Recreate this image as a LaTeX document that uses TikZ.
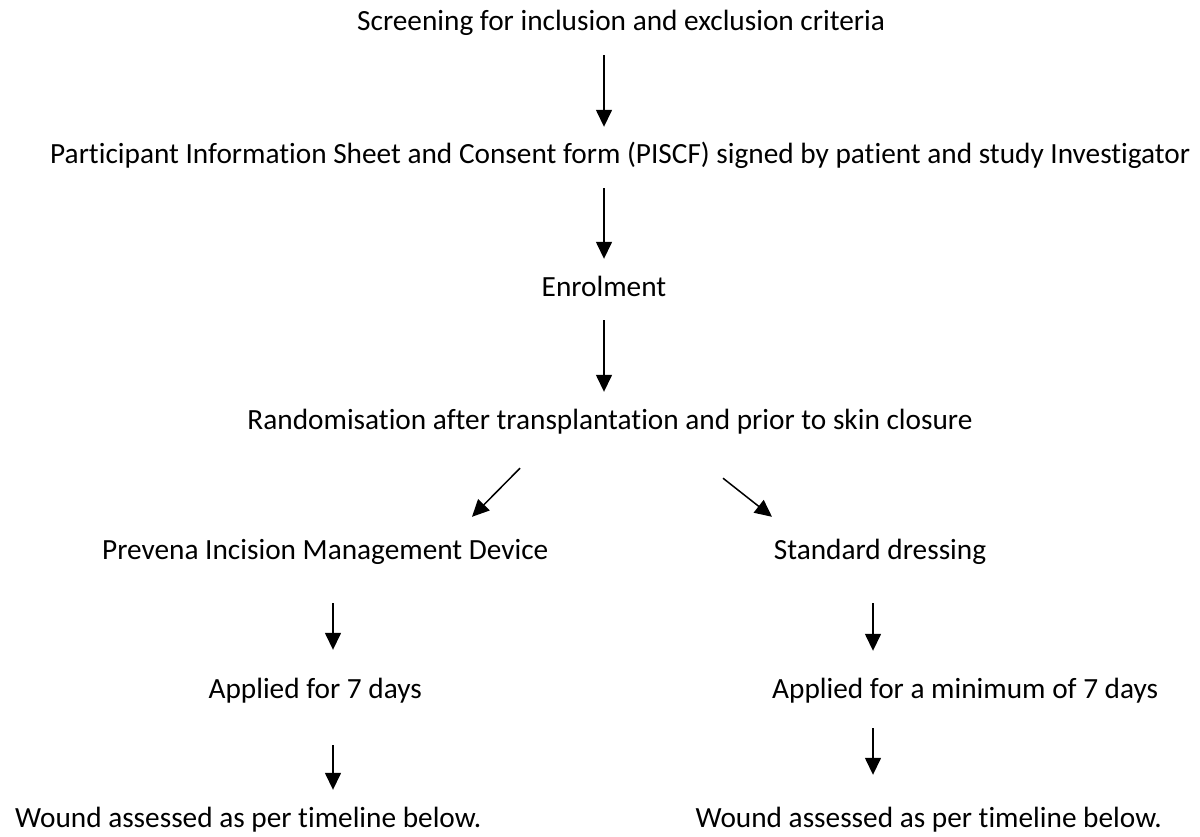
\documentclass[tikz,border=0pt]{standalone}
\usepackage{fontspec}
\setmainfont{Carlito}[Ligatures=CommonOff]
\usetikzlibrary{arrows.meta}
\begin{document}
\begin{tikzpicture}[x=1pt, y=-1pt, >={Triangle[length=17pt, width=16pt]},
  txt/.style={inner sep=0pt, text height=21pt, text depth=6pt, font=\fontsize{29.3}{35}\selectfont},
  arr/.style={->, line width=1.5pt}]
\useasboundingbox (0,0) rectangle (1200,837);
% flow down the middle
\node[txt, anchor=base west] (screen) at (357,31) {Screening for inclusion and exclusion criteria};
\node[txt, anchor=base west] (pisc) at (50,164) {Participant Information Sheet and Consent form (PISCF) signed by patient and study Investigator};
\node[txt, anchor=base] (enrol) at (604,296) {Enrolment};
\node[txt, anchor=base] (rand) at (610,429) {Randomisation after transplantation and prior to skin closure};
% two arms
\node[txt, anchor=base west] (prev) at (102,559) {Prevena Incision Management Device};
\node[txt, anchor=base] (stand) at (880,559) {Standard dressing};
\node[txt, anchor=base east] (app7) at (422,698) {Applied for 7 days};
\node[txt, anchor=base west] (appmin) at (772,698) {Applied for a minimum of 7 days};
\node[txt, anchor=base west] (woundL) at (15,827) {Wound assessed as per timeline below.};
\node[txt, anchor=base east] (woundR) at (1162,827) {Wound assessed as per timeline below.};
\coordinate (colL) at (333,0);
\coordinate (colR) at (873,0);
\draw[arr, shorten <=18pt, shorten >=16pt] (screen.south -| enrol) -- (pisc.north -| enrol);
\draw[arr, shorten <=18pt, shorten >=16pt] (pisc.south -| enrol) -- (enrol.north);
\draw[arr, shorten <=18pt, shorten >=16pt] (enrol.south) -- (rand.north -| enrol);
\draw[arr] ([shift={(-90,33)}]rand.south) -- ([shift={(370,-21)}]prev.north west);
\draw[arr] ([shift={(113,43)}]rand.south) -- ([shift={(-108,-21)}]stand.north);
\draw[arr, shorten <=38pt, shorten >=27pt] (prev.south -| colL) -- (app7.north -| colL);
\draw[arr, shorten <=38pt, shorten >=26pt] (stand.south -| colR) -- (appmin.north -| colR);
\draw[arr, shorten <=41pt, shorten >=16pt] (app7.south -| colL) -- (woundL.north -| colL);
\draw[arr, shorten <=24pt, shorten >=31pt] (appmin.south -| colR) -- (woundR.north -| colR);
\end{tikzpicture}
\end{document}
